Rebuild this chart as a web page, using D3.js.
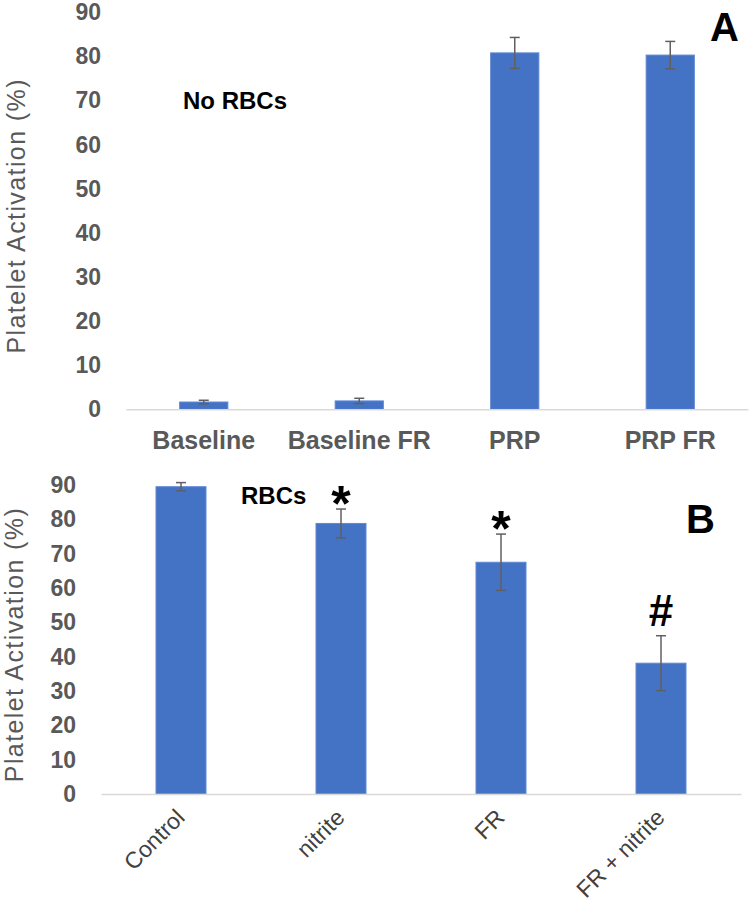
<!DOCTYPE html>
<html lang="en">

<head>
  <meta charset="UTF-8">
  <title>Platelet Activation</title>
  <script src="https://d3js.org/d3.v7.min.js"></script>
  <style>
    body {
      margin: 0;
      background: #fff;
    }

    svg text {
      font-family: "Liberation Sans", Arial, sans-serif;
    }
  </style>
</head>

<body>
  <div id="chart"></div>
  <script>
    // panel A - no RBCs
    const panelACategories = ["Baseline", "Baseline FR", "PRP", "PRP FR"];
    const panelAValues = [1.65, 1.9, 80.8, 80.3];
    const panelAErrors = [0.4, 0.6, 3.5, 3.1];

    // panel B - RBCs
    const panelBCategories = ["Control", "nitrite", "FR", "FR + nitrite"];
    const panelBValues = [89.5, 78.8, 67.5, 38.1];
    const panelBErrors = [1.2, 4.2, 8.2, 8.0];
    const panelBMarks = ["", "*", "*", "#"];

    const yTicks = [0, 10, 20, 30, 40, 50, 60, 70, 80, 90];

    const width = 750;
    const height = 904;
    const barColor = "#4472C4";
    const axisGray = "#595959";

    const svg = d3.select("#chart")
      .append("svg")
      .attr("width", width)
      .attr("height", height)
      .style("display", "block");

    svg.append("rect").attr("width", width).attr("height", height).attr("fill", "#fff");

    function drawPanel(opts) {
      const { categories, values, errors, marks, left, right, bottom, top, padInner, titleX, rotateLabels } = opts;
      const g = svg.append("g");

      const x = d3.scaleBand()
        .domain(categories)
        .range([left, right])
        .paddingInner(padInner)
        .paddingOuter(padInner / 2);

      const y = d3.scaleLinear()
        .domain([0, 90])
        .range([bottom, top]);

      // y axis (labels only)
      const yAxis = g.append("g")
        .attr("transform", `translate(${left},0)`)
        .call(d3.axisLeft(y).tickValues(yTicks).tickSize(0).tickPadding(25));
      yAxis.select(".domain").remove();
      yAxis.selectAll("text")
        .attr("fill", axisGray)
        .style("font-size", "23px")
        .style("font-weight", "bold")
        .style("font-family", "'Liberation Sans', Arial, sans-serif");

      // bars
      const data = categories.map((c, i) => ({ c, v: values[i], e: errors[i], m: marks ? marks[i] : "" }));

      g.selectAll(".bar")
        .data(data)
        .enter()
        .append("rect")
        .attr("class", "bar")
        .attr("x", d => x(d.c))
        .attr("width", x.bandwidth())
        .attr("y", d => y(d.v))
        .attr("height", d => y(0) - y(d.v))
        .attr("fill", barColor)
        .attr("stroke", "#5f88d2")
        .attr("stroke-width", 1);

      // x axis
      const xAxis = g.append("g")
        .attr("transform", `translate(0,${bottom})`)
        .call(d3.axisBottom(x).tickSize(0).tickSizeOuter(0).tickPadding(22));
      xAxis.select(".domain")
        .attr("stroke", "#d9d9d9")
        .attr("stroke-width", 1.5);
      const xLabels = xAxis.selectAll("text")
        .style("font-family", "'Liberation Sans', Arial, sans-serif");

      if (rotateLabels) {
        xLabels
          .attr("y", 0)
          .attr("dy", 0)
          .attr("text-anchor", "end")
          .attr("transform", "translate(5,25) rotate(-45)")
          .attr("fill", "#404040")
          .style("font-size", "23px");
      } else {
        xLabels
          .attr("fill", axisGray)
          .style("font-size", "25px")
          .style("font-weight", "bold");
      }

      // error bars
      const err = g.selectAll(".err")
        .data(data)
        .enter()
        .append("g")
        .attr("class", "err")
        .attr("stroke", "#606060")
        .attr("stroke-width", 1.5);

      const cx = d => x(d.c) + x.bandwidth() / 2;
      err.append("line")
        .attr("x1", cx).attr("x2", cx)
        .attr("y1", d => y(d.v + d.e)).attr("y2", d => y(d.v - d.e));
      err.append("line")
        .attr("x1", d => cx(d) - 5).attr("x2", d => cx(d) + 5)
        .attr("y1", d => y(d.v + d.e)).attr("y2", d => y(d.v + d.e));
      err.append("line")
        .attr("x1", d => cx(d) - 5).attr("x2", d => cx(d) + 5)
        .attr("y1", d => y(d.v - d.e)).attr("y2", d => y(d.v - d.e));

      // significance marks
      g.selectAll(".mark")
        .data(data.filter(d => d.m))
        .enter()
        .append("text")
        .attr("class", "mark")
        .attr("x", cx)
        .attr("y", d => y(d.v + d.e) + (d.m === "*" ? 12 : -10))
        .attr("text-anchor", "middle")
        .style("font-size", d => d.m === "*" ? "50px" : "44px")
        .style("font-weight", "bold")
        .attr("fill", "#000")
        .text(d => d.m);

      // y axis title
      g.append("text")
        .attr("transform", `translate(${titleX},${(top + bottom) / 2 + 5}) rotate(-90)`)
        .attr("text-anchor", "middle")
        .attr("dy", "0.35em")
        .attr("fill", axisGray)
        .style("font-size", "25px")
        .style("letter-spacing", "1.4px")
        .text("Platelet Activation (%)");

      return g;
    }

    const panelA = drawPanel({
      categories: panelACategories,
      values: panelAValues,
      errors: panelAErrors,
      left: 126, right: 748, bottom: 409.3, top: 12.3,
      padInner: 0.69,
      titleX: 16,
      rotateLabels: false
    });

    panelA.append("text")
      .attr("x", 183).attr("y", 109)
      .style("font-size", "24px").style("font-weight", "bold")
      .text("No RBCs");

    panelA.append("text")
      .attr("x", 710).attr("y", 41)
      .style("font-size", "40px").style("font-weight", "bold")
      .text("A");

    const panelB = drawPanel({
      categories: panelBCategories,
      values: panelBValues,
      errors: panelBErrors,
      marks: panelBMarks,
      left: 101, right: 741, bottom: 794, top: 485,
      padInner: 0.6875,
      titleX: 14,
      rotateLabels: true
    });

    panelB.append("text")
      .attr("x", 241).attr("y", 504)
      .style("font-size", "24px").style("font-weight", "bold")
      .text("RBCs");

    panelB.append("text")
      .attr("x", 686).attr("y", 533)
      .style("font-size", "40px").style("font-weight", "bold")
      .text("B");
  </script>
</body>

</html>
